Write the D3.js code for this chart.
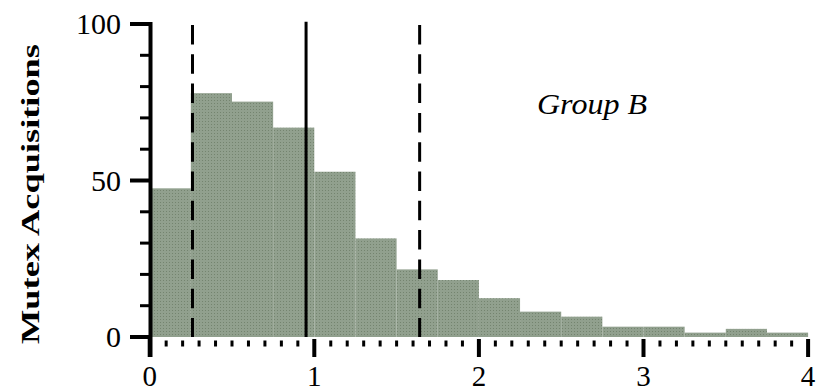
<!DOCTYPE html>
<html>
<head>
<meta charset="utf-8">
<script src="https://cdn.jsdelivr.net/npm/d3@7"></script>
<style>
  body { margin: 0; background: #fff; }
</style>
</head>
<body>
<div id="chart"></div>
<script>
// histogram bins (width 0.25) and counts
const binStarts = [0, 0.25, 0.5, 0.75, 1, 1.25, 1.5, 1.75, 2, 2.25, 2.5, 2.75, 3, 3.25, 3.5, 3.75];
const counts = [47.5, 77.9, 75.2, 66.9, 52.8, 31.5, 21.6, 18.2, 12.4, 8.1, 6.5, 3.3, 3.3, 1.4, 2.6, 1.4];
const binWidth = 0.25;

// reference lines: dashed, solid (centre), dashed
const refLines = [
  { x: 0.26, dashed: true },
  { x: 0.95, dashed: false },
  { x: 1.64, dashed: true }
];

const xMajor = [0, 1, 2, 3, 4];
const yMajor = [0, 50, 100];
const groupLabel = "Group B";
const yTitle = "Mutex Acquisitions";

const width = 823, height = 391;
const serif = '"Liberation Serif"';

const svg = d3.select("#chart").append("svg")
  .attr("width", width)
  .attr("height", height);

const x = d3.scaleLinear().domain([0, 4]).range([149.7, 808.1]);
const y = d3.scaleLinear().domain([0, 100]).range([337, 24]);

// halftone-ish fill for the bars
const defs = svg.append("defs");
const pat = defs.append("pattern")
  .attr("id", "dots")
  .attr("width", 3).attr("height", 3)
  .attr("patternUnits", "userSpaceOnUse");
pat.append("rect").attr("width", 3).attr("height", 3).attr("fill", "#91a08e");
pat.append("rect").attr("x", 1).attr("y", 1).attr("width", 1).attr("height", 1).attr("fill", "#74846f");

// bars
svg.append("g").selectAll("rect")
  .data(binStarts.map((b, i) => ({ b, v: counts[i] })))
  .join("rect")
  .attr("x", d => x(d.b))
  .attr("y", d => y(d.v))
  .attr("width", d => x(d.b + binWidth) - x(d.b))
  .attr("height", d => y(0) - y(d.v))
  .attr("fill", "url(#dots)");

// reference lines
svg.append("g").selectAll("line")
  .data(refLines)
  .join("line")
  .attr("x1", d => x(d.x)).attr("x2", d => x(d.x))
  .attr("y1", d => d.dashed ? 25 : 21.7)
  .attr("y2", y(0))
  .attr("stroke", "#000")
  .attr("stroke-width", 3)
  .attr("stroke-dasharray", d => d.dashed ? "19.5 9.8" : null);

// x ticks (no axis line, ticks hang below the bars)
const xMinor = d3.range(0, 40).map(i => i / 10).filter(v => !xMajor.includes(v));
const xt = svg.append("g");
xt.selectAll(".minor").data(xMinor).join("rect")
  .attr("class", "minor")
  .attr("x", d => x(d) - 1.5)
  .attr("y", 340.5)
  .attr("width", 3).attr("height", 6)
  .attr("fill", "#000");
xt.selectAll(".major").data(xMajor).join("rect")
  .attr("class", "major")
  .attr("x", d => x(d) - 2)
  .attr("y", 339)
  .attr("width", 4).attr("height", 18)
  .attr("fill", "#000");
xt.selectAll("text").data(xMajor).join("text")
  .attr("x", d => x(d))
  .attr("y", 386)
  .attr("text-anchor", "middle")
  .attr("font-family", serif)
  .attr("font-size", 29)
  .text(d => d);

// y axis
const yg = svg.append("g");
yg.append("line")
  .attr("x1", 150.5).attr("x2", 150.5)
  .attr("y1", y(100) - 2).attr("y2", 357)
  .attr("stroke", "#000").attr("stroke-width", 4);
const yMinor = d3.range(0, 101, 10).filter(v => !yMajor.includes(v));
yg.selectAll(".minor").data(yMinor).join("line")
  .attr("class", "minor")
  .attr("x1", 140).attr("x2", 151)
  .attr("y1", d => y(d)).attr("y2", d => y(d))
  .attr("stroke", "#000").attr("stroke-width", 3);
yg.selectAll(".major").data(yMajor).join("line")
  .attr("class", "major")
  .attr("x1", 130).attr("x2", 151)
  .attr("y1", d => y(d)).attr("y2", d => y(d))
  .attr("stroke", "#000").attr("stroke-width", 4);
yg.selectAll("text").data(yMajor).join("text")
  .attr("x", 121)
  .attr("y", d => y(d) + 10)
  .attr("text-anchor", "end")
  .attr("font-family", serif)
  .attr("font-size", 30)
  .text(d => d);

// y title
svg.append("text")
  .attr("transform", "translate(39,194) rotate(-90)")
  .attr("text-anchor", "middle")
  .attr("font-family", serif)
  .attr("font-size", 25)
  .attr("font-weight", "bold")
  .attr("textLength", 300)
  .attr("lengthAdjust", "spacingAndGlyphs")
  .text(yTitle);

// group label
svg.append("text")
  .attr("x", 537)
  .attr("y", 114)
  .attr("font-family", serif)
  .attr("font-size", 30)
  .attr("font-style", "italic")
  .attr("textLength", 110)
  .attr("lengthAdjust", "spacingAndGlyphs")
  .text(groupLabel);
</script>
</body>
</html>
